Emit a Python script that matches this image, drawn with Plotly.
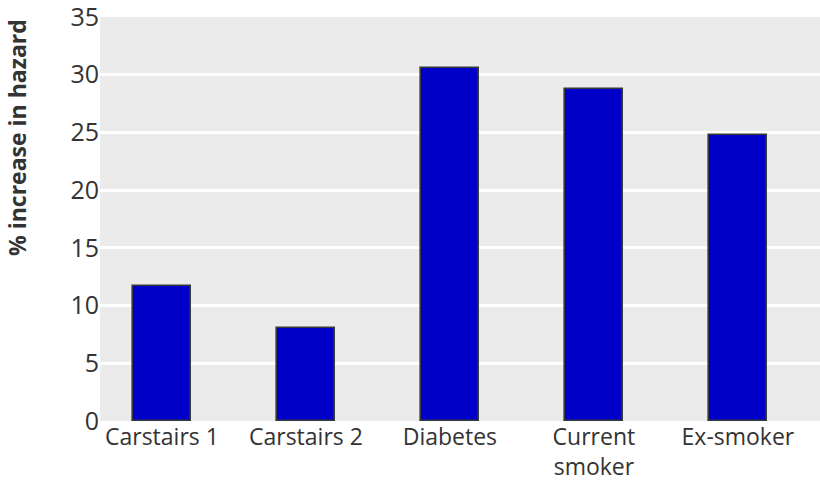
import plotly.graph_objects as go

categories = ["Carstairs 1", "Carstairs 2", "Diabetes", "Current<br>smoker", "Ex-smoker"]
pct_increase = [11.7, 8.1, 30.6, 28.8, 24.8]
y_ticks = [0, 5, 10, 15, 20, 25, 30, 35]

fig = go.Figure()
fig.add_trace(go.Bar(
    x=list(range(len(categories))), y=pct_increase,
    width=0.4,
    marker=dict(color="#0000c8", line=dict(color="#383838", width=1.6)),
))

fig.update_layout(
    width=820, height=484,
    margin=dict(l=100, r=0, t=17, b=63),
    paper_bgcolor="white", plot_bgcolor="#ebebeb",
    font=dict(family="Open Sans", color="#333333", size=24),
    showlegend=False,
    bargap=0,
)
fig.update_xaxes(
    tickmode="array", tickvals=list(range(len(categories))), ticktext=categories,
    range=[-0.43, 4.57], showgrid=False, zeroline=False, ticks="", ticklen=0,
    tickfont=dict(size=23), automargin=False, ticklabeloverflow="allow",
)
fig.update_yaxes(
    range=[0, 35], tickvals=y_ticks, showgrid=True, gridcolor="white", gridwidth=2.5,
    zeroline=False, ticks="", tickfont=dict(size=25), automargin=False,
    ticklabeloverflow="allow",
)
fig.add_annotation(
    text="<b>% increase in hazard</b>", textangle=-90,
    xref="paper", yref="paper", x=(17 - 100) / 720, y=1 - (138 - 17) / 404,
    xanchor="center", yanchor="middle", showarrow=False,
    font=dict(size=23, color="#333333"),
)

# drop the default page margin so the figure fills the window exactly
fig.write_html(
    "out.html",
    config={"displayModeBar": False},
    post_script="document.body.style.margin='0';",
)
